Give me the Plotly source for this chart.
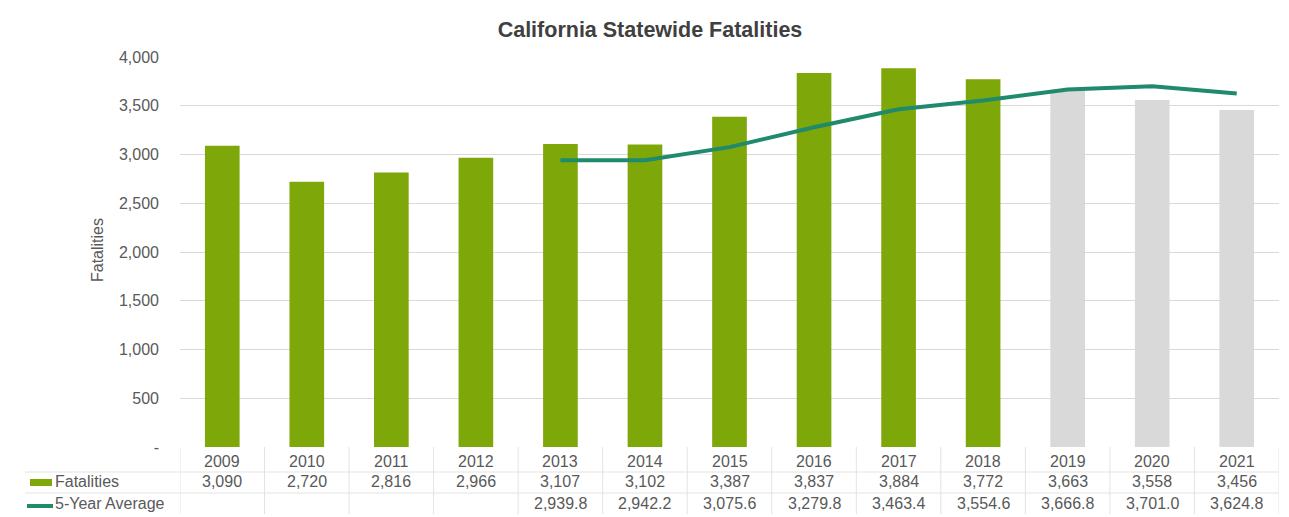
import plotly.graph_objects as go

years = ["2009", "2010", "2011", "2012", "2013", "2014", "2015", "2016", "2017", "2018", "2019", "2020", "2021"]
fatalities = [3090, 2720, 2816, 2966, 3107, 3102, 3387, 3837, 3884, 3772, 3663, 3558, 3456]
five_year_avg = [None, None, None, None, 2939.8, 2942.2, 3075.6, 3279.8, 3463.4, 3554.6, 3666.8, 3701.0, 3624.8]
projected = [False] * 10 + [True] * 3
y_tick_vals = [0, 500, 1000, 1500, 2000, 2500, 3000, 3500, 4000]
y_tick_text = ["-", "500", "1,000", "1,500", "2,000", "2,500", "3,000", "3,500", "4,000"]

W, H = 1289, 517
L, R, T, B = 180, 10, 57, 70
plot_w = W - L - R
plot_h = H - T - B

def px_x(px):
    return (px - L) / plot_w

def px_y(py):
    return (H - B - py) / plot_h

GREEN = "#7EA70A"
GRAY_BAR = "#D9D9D9"
TEAL = "#1F8A6C"
TXT = "#595959"
GRID = "#D9D9D9"
FONT = "Liberation Sans, Arial, sans-serif"
FS = 16

bar_colors = [GRAY_BAR if p else GREEN for p in projected]

fig = go.Figure()
fig.add_trace(go.Bar(x=list(range(len(years))), y=fatalities, marker=dict(color=bar_colors, line=dict(width=0)),
                     width=0.41, name="Fatalities", showlegend=False, hoverinfo="skip"))
fig.add_trace(go.Scatter(x=list(range(len(years))), y=five_year_avg, mode="lines",
                         line=dict(color=TEAL, width=4), name="5-Year Average", showlegend=False,
                         connectgaps=False, hoverinfo="skip"))

annotations = []
shapes = []

row_year_y = px_y(461)
row_fat_y = px_y(482)
row_avg_y = px_y(504)

def fmt0(v):
    return f"{v:,.0f}"

def fmt1(v):
    return f"{v:,.1f}"

for i, yr in enumerate(years):
    annotations.append(dict(x=i, y=row_year_y, xref="x", yref="paper", text=yr, showarrow=False,
                            font=dict(size=FS, color=TXT, family=FONT), xanchor="center", yanchor="middle"))
    annotations.append(dict(x=i, y=row_fat_y, xref="x", yref="paper", text=fmt0(fatalities[i]), showarrow=False,
                            font=dict(size=FS, color=TXT, family=FONT), xanchor="center", yanchor="middle"))
    if five_year_avg[i] is not None:
        annotations.append(dict(x=i, y=row_avg_y, xref="x", yref="paper", text=fmt1(five_year_avg[i]), showarrow=False,
                                font=dict(size=FS, color=TXT, family=FONT), xanchor="center", yanchor="middle"))

# legend labels in the table
annotations.append(dict(x=px_x(53), y=row_fat_y, xref="paper", yref="paper", text="Fatalities", showarrow=False,
                        font=dict(size=FS, color=TXT, family=FONT), xanchor="left", yanchor="middle"))
annotations.append(dict(x=px_x(53), y=row_avg_y, xref="paper", yref="paper", text="5-Year Average", showarrow=False,
                        font=dict(size=FS, color=TXT, family=FONT), xanchor="left", yanchor="middle"))
shapes.append(dict(type="rect", xref="paper", yref="paper", x0=px_x(30), x1=px_x(52), y0=px_y(486), y1=px_y(479),
                   fillcolor=GREEN, line=dict(width=0)))
shapes.append(dict(type="line", xref="paper", yref="paper", x0=px_x(27), x1=px_x(53), y0=px_y(506), y1=px_y(506),
                   line=dict(color=TEAL, width=4)))

# table grid lines
for yy in (472, 493):
    shapes.append(dict(type="line", xref="paper", yref="paper", x0=px_x(25), x1=1.0, y0=px_y(yy), y1=px_y(yy),
                       line=dict(color="#E3E3E3", width=1)))
for k in range(len(years) + 1):
    shapes.append(dict(type="line", xref="x", yref="paper", x0=k - 0.5, x1=k - 0.5, y0=px_y(447), y1=px_y(514),
                       line=dict(color="#E3E3E3", width=1)))

# y axis title
annotations.append(dict(x=px_x(97), y=px_y(250), xref="paper", yref="paper", text="Fatalities", showarrow=False,
                        textangle=-90, font=dict(size=FS, color=TXT, family=FONT), xanchor="center", yanchor="middle"))

fig.update_layout(
    width=W, height=H,
    margin=dict(l=L, r=R, t=T, b=B),
    paper_bgcolor="white", plot_bgcolor="white",
    title=dict(text="<b>California Statewide Fatalities</b>", x=650 / W, xref="container", y=1 - 29 / H,
               yref="container", xanchor="center", yanchor="middle",
               font=dict(size=21.5, color="#404040", family=FONT)),
    font=dict(family=FONT, color=TXT),
    showlegend=False,
    hovermode=False,
    annotations=annotations,
    shapes=shapes,
    xaxis=dict(range=[-0.5, len(years) - 0.5], showticklabels=False, showgrid=False, zeroline=False,
               showline=False, ticks="", fixedrange=True),
    yaxis=dict(range=[0, 4000], tickvals=y_tick_vals, ticktext=y_tick_text, showgrid=True, gridcolor=GRID,
               gridwidth=1, zeroline=False, showline=False, ticks="", ticklabelstandoff=20,
               tickfont=dict(size=FS, color=TXT, family=FONT), fixedrange=True),
)

fig.write_html("out.html", config={"displayModeBar": False, "staticPlot": True},
               post_script="document.body.style.margin='0';document.body.style.overflow='hidden';")
